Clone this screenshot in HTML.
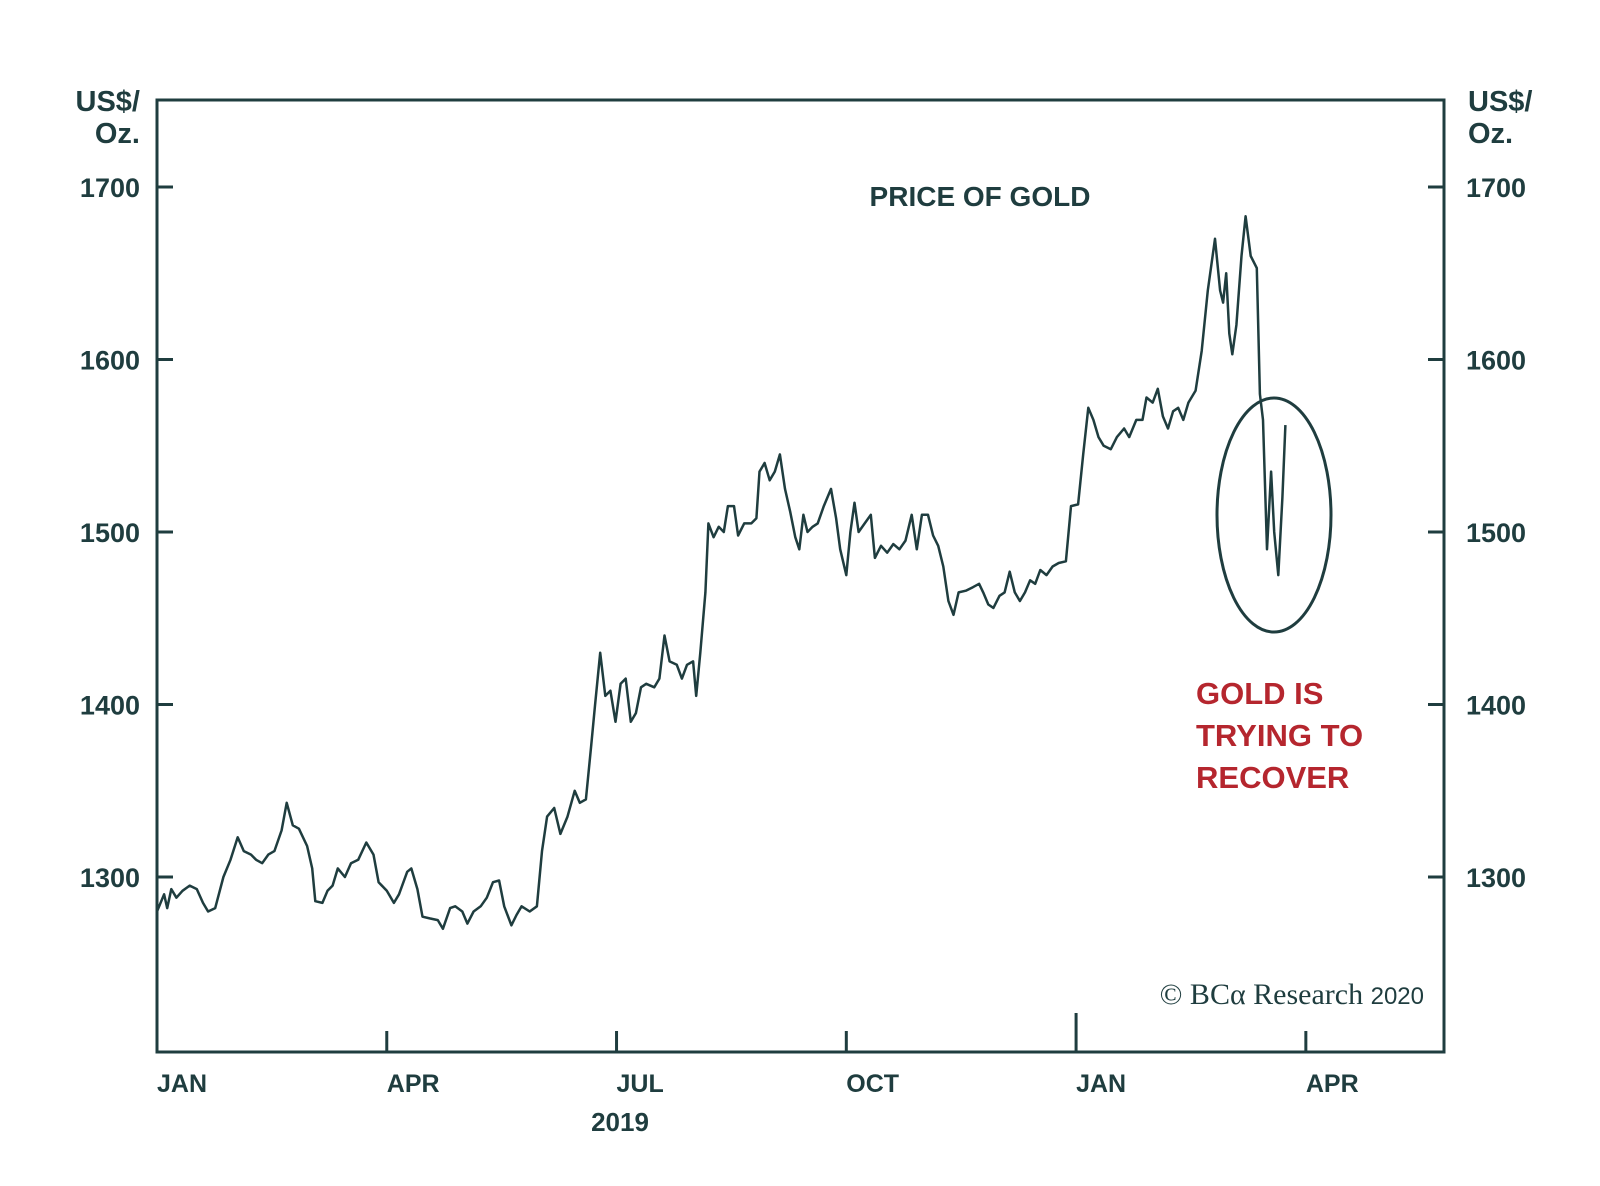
<!DOCTYPE html>
<html><head><meta charset="utf-8"><style>
body{margin:0;background:#fff;}
svg{display:block;font-family:"Liberation Sans",sans-serif;}
</style></head><body>
<svg id="chart" width="1600" height="1186" viewBox="0 0 1600 1186">
<rect x="157" y="100" width="1287" height="952" fill="none" stroke="#1f3d3f" stroke-width="3"/>
<g id="axes" fill="#1f3d3f" font-weight="bold"></g>
<text x="140" y="111" text-anchor="end" font-size="29" font-weight="bold" fill="#1f3d3f">US$/</text>
<text x="140" y="143" text-anchor="end" font-size="29" font-weight="bold" fill="#1f3d3f">Oz.</text>
<text x="1468" y="111" font-size="29" font-weight="bold" fill="#1f3d3f">US$/</text>
<text x="1468" y="143" font-size="29" font-weight="bold" fill="#1f3d3f">Oz.</text>
<text x="980" y="206" text-anchor="middle" font-size="28" font-weight="bold" fill="#1f3d3f">PRICE OF GOLD</text>
<g font-size="31" font-weight="bold" fill="#b5262e">
<text x="1196" y="704">GOLD IS</text><text x="1196" y="746">TRYING TO</text><text x="1196" y="788">RECOVER</text></g>
<ellipse cx="1274" cy="515" rx="57" ry="117" fill="none" stroke="#1f3d3f" stroke-width="3"/>
<text x="1424" y="1004" text-anchor="end" font-family="Liberation Serif,serif" font-size="30" fill="#1f3d3f">© BCα Research <tspan font-family="Liberation Sans,sans-serif" font-size="24">2020</tspan></text>
<text x="620" y="1131" text-anchor="middle" font-size="26" font-weight="bold" fill="#1f3d3f">2019</text>
<path id="line" fill="none" stroke="#1f3d3f" stroke-width="2.5" stroke-linejoin="round"/>
</svg>
<script>
const xs=[153,160,163,167,172,178,185,192,198,203,210,218,225,232,238,245,250,256,262,268,275,280,286,292,300,305,308,315,320,325,330,337,343,350,358,365,370,378,385,390,398,402,408,413,420,428,433,440,445,452,457,463,470,476,482,488,493,500,505,510,518,525,530,535,542,548,555,562,567,573,578,582,587,592,597,602,607,612,617,622,627,632,640,645,650,655,662,667,672,678,681,685,690,693,698,703,708,712,718,722,728,735,740,743,748,753,758,763,768,773,778,782,786,790,795,800,806,813,818,822,828,832,836,840,846,852,856,862,868,874,880,886,892,897,902,908,913,918,923,928,933,938,945,952,958,962,967,972,978,983,988,993,998,1003,1008,1013,1018,1024,1030,1036,1043,1048,1055,1060,1065,1070,1075,1080,1087,1093,1100,1105,1112,1118,1122,1128,1133,1138,1143,1148,1153,1158,1163,1170,1176,1182,1189,1194,1197,1200,1203,1206,1210,1215,1219,1224,1230,1233,1236,1240,1244,1247,1251,1255,1258];
const days=xs.map(x=>(x-153)/2.5);
const prices=[1280,1290,1282,1293,1288,1292,1295,1293,1285,1280,1282,1300,1310,1323,1315,1313,1310,1308,1313,1315,1327,1343,1330,1328,1318,1305,1286,1285,1292,1295,1305,1300,1308,1310,1320,1313,1297,1292,1285,1290,1303,1305,1293,1277,1276,1275,1270,1282,1283,1280,1273,1280,1283,1288,1297,1298,1283,1272,1278,1283,1280,1283,1315,1335,1340,1325,1335,1350,1343,1345,1375,1400,1430,1405,1408,1390,1412,1415,1390,1395,1410,1412,1410,1415,1440,1425,1423,1415,1423,1425,1405,1430,1465,1505,1497,1503,1500,1515,1515,1498,1505,1505,1508,1535,1540,1530,1535,1545,1525,1512,1497,1490,1510,1500,1503,1505,1515,1525,1508,1490,1475,1500,1517,1500,1505,1510,1485,1492,1488,1493,1490,1495,1510,1490,1510,1510,1498,1492,1480,1460,1452,1465,1466,1468,1470,1465,1458,1456,1463,1465,1477,1465,1460,1465,1472,1470,1478,1475,1480,1482,1483,1515,1516,1545,1572,1565,1555,1550,1548,1555,1560,1555,1565,1565,1578,1575,1583,1567,1560,1570,1572,1565,1575,1582,1605,1640,1670,1640,1633,1650,1615,1603,1620,1660,1683,1660,1653,1580,1565,1490,1535,1500,1475,1520,1562];
const yTicks=[1300,1400,1500,1600,1700];
const xTickDays=[0,90,180,270,360,450];
const xTickLabels=["JAN","APR","JUL","OCT","JAN","APR"];
const X=d=>157+d*2.553, Y=v=>187+(1700-v)*1.725;
const ns="http://www.w3.org/2000/svg",g=document.getElementById('axes');
function mk(t,a){const e=document.createElementNS(ns,t);for(const k in a)e.setAttribute(k,a[k]);g.appendChild(e);return e;}
yTicks.forEach(v=>{
 let l=mk('line',{x1:157,x2:173,y1:Y(v),y2:Y(v),stroke:'#1f3d3f','stroke-width':3});
 
 
 let r=mk('line',{x1:1428,x2:1444,y1:Y(v),y2:Y(v),stroke:'#1f3d3f','stroke-width':3});
 
 
 let t=mk('text',{x:140,y:Y(v)+10,'text-anchor':'end','font-size':27});t.textContent=v;
 
 
 let t2=mk('text',{x:1466,y:Y(v)+10,'font-size':27});t2.textContent=v;
 
 
});
xTickDays.forEach((d,i)=>{
 if(i>0){let l=mk('line',{x1:X(d),x2:X(d),y1:i==4?1013:1031,y2:1052,stroke:'#1f3d3f','stroke-width':3});
 
 }
 let t=mk('text',{x:X(d),y:1092,'font-size':25});t.textContent=xTickLabels[i];
 
 
});
document.getElementById('line').setAttribute('d',days.map((d,i)=>(i?'L':'M')+X(d).toFixed(1)+' '+Y(prices[i]).toFixed(1)).join(''));
</script>
</body></html>
